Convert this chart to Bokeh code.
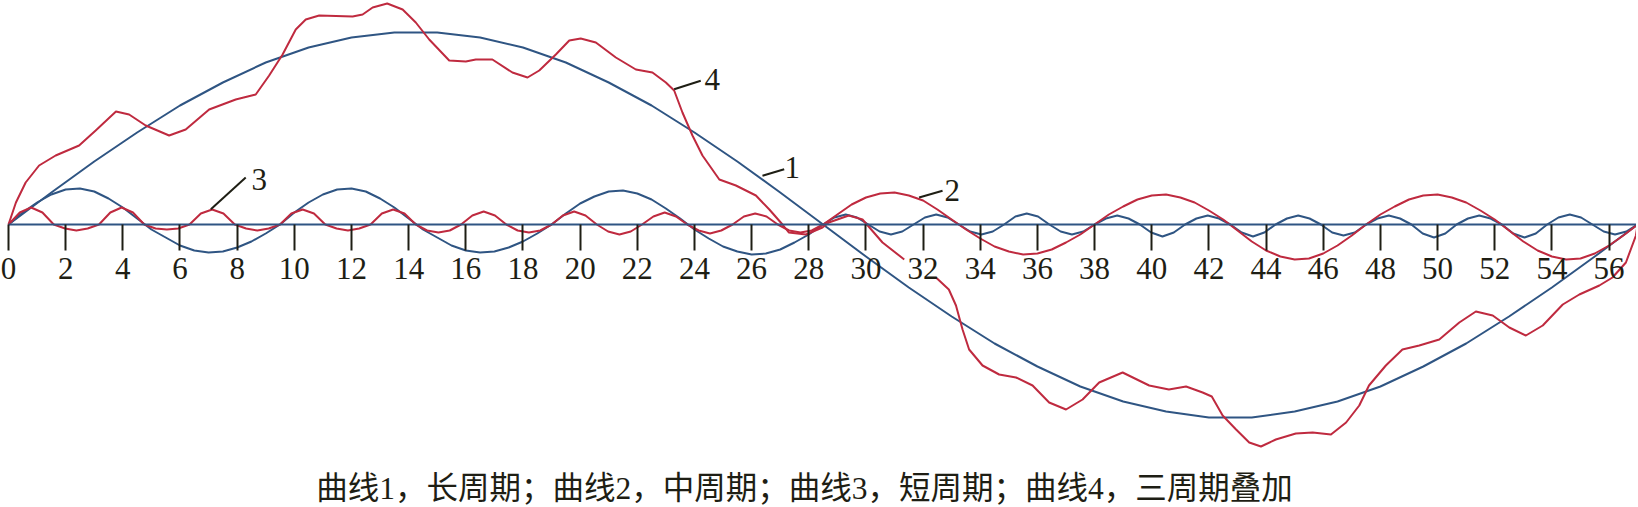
import numpy as np
from bokeh.plotting import figure
from bokeh.models import Range1d, LinearAxis, FixedTicker
from bokeh.core.properties import value
from bokeh.embed import file_html
from bokeh.resources import INLINE

# ---------------- data (y in px-like units above the axis) -------------
TICKS = [0, 2, 4, 6, 8, 10, 12, 14, 16, 18, 20, 22, 24, 26, 28,
         30, 32, 34, 36, 38, 40, 42, 44, 46, 48, 50, 52, 54, 56]

# curve 1: long period
LONG_X = [0, 1.5, 3, 4.5, 6, 7.5, 9, 10.5, 12, 13.5, 15, 16.5, 18, 19.5, 21, 22.5, 24, 25.5, 27,
          28.5, 30, 31.5, 33, 34.5, 36, 37.5, 39, 40.5, 42, 43.5, 45, 46.5, 48, 49.5, 51, 52.5,
          54, 55.5, 57]
LONG_Y = [0, 32, 63, 92, 119, 142, 162, 177, 187, 192, 192, 187, 177, 162, 142, 119, 92, 63, 32,
          0, -32, -63, -92, -119, -142, -162, -177, -187, -193, -193, -187, -177, -162, -142,
          -119, -92, -63, -32, 0]

# curve 2: medium period (blue in the first half, red in the second half), sampled every 0.5
MED_BLUE_Y = [0, 12, 22, 30, 35, 36, 33, 26, 17, 6, -5, -13, -21, -26, -28, -27, -23, -17, -9,
              0, 12, 22, 30, 35, 36, 33, 26, 17, 6, -5, -13, -21, -26, -28, -27, -23, -17, -9,
              0, 11, 21, 28, 33, 34, 31, 25, 16, 6, -5, -14, -22, -27, -30, -29, -25, -18, -10,
              0]
MED_RED_Y = [0, 10, 20, 27, 31, 32, 29, 24, 15, 5, -5, -14, -22, -27, -30, -29, -25, -18, -10,
             0, 10, 18, 25, 29, 30, 27, 22, 14, 5, -6, -17, -26, -32, -35, -34, -29, -21, -11,
             0, 10, 18, 25, 29, 30, 27, 22, 14, 5, -6, -17, -26, -32, -35, -34, -29, -21, -11,
             0]

# curve 3: short period (red in the first half, blue in the second half), 8 samples per period
SHORT_RED_Y = [0, 12, 17, 12, 0, -4, -6, -4,
               0, 12, 17, 12, 0, -4, -5, -4,
               0, 11, 15, 11, 0, -4, -6, -4,
               0, 11, 15, 11, 0, -4, -6, -4,
               0, 11, 15, 11, 0, -6, -8, -6,
               0, 9, 13, 9, 0, -6, -8, -6,
               0, 9, 13, 9, 0, -7, -10, -7,
               0, 8, 12, 8, 0, -6, -9, -6,
               0, 8, 11, 8, 0, -6, -8, -6,
               0]
SHORT_BLUE_Y = [0, 7, 10, 7, 0, -7, -10, -7,
                0, 7, 10, 7, 0, -7, -10, -7,
                0, 8, 11, 8, 0, -7, -10, -7,
                0, 6, 9, 6, 0, -8, -12, -8,
                0, 6, 9, 6, 0, -8, -12, -8,
                0, 6, 9, 6, 0, -8, -11, -8,
                0, 6, 9, 6, 0, -9, -13, -9,
                0, 6, 9, 6, 0, -9, -13, -9,
                0, 7, 10, 7, 0, -7, -10, -7,
                0]

# curve 4: superposition of the three periods (hand-drawn, broken around the "32" label)
NAN = float("nan")
SUM_X = [0, 0.26, 0.6, 1.07, 1.65, 2.47, 3.05, 3.76, 4.22, 4.8, 5.62, 6.2, 7.02, 7.95, 8.65,
         9.12, 9.59, 10.05, 10.4, 10.87, 12.04, 12.39, 12.74, 13.25, 13.79, 14.25, 14.72, 15.42,
         16.0, 16.35, 16.93, 17.63, 18.16, 18.57, 19.15, 19.62, 20.02, 20.55, 21.25, 21.95,
         22.53, 23.0, 23.29, 23.58, 23.93, 24.28, 24.87, 25.45, 26.15, 26.62, 27.08, 27.3, 27.9,
         28.48, 28.7, 29.4, 29.88, 30.58, 31.34, 31.9,
         32.45, 32.9, 33.15, 33.38, 33.61, 34.08, 34.66, 35.25, 35.83, 36.41, 37.0, 37.58, 38.16,
         38.98, 39.91, 40.6, 41.2, 41.78, 42.1, 42.48, 42.95, 43.41, 43.82, 44.34, 45.04, 45.63,
         46.27, 46.8, 47.26, 47.6, 48.19, 48.77, 49.36, 50.06, 50.76, 51.34, 51.93, 52.51,
         53.09, 53.68, 54.38, 54.96, 55.66, 56.12, 56.59, 56.94, 57.0]
SUM_Y = [0, 22, 42, 59, 69, 79, 94, 113, 110, 99, 89, 95, 115, 125, 130,
         149, 170, 195, 205, 209, 208, 210, 217, 221, 215, 202, 185, 164,
         163, 165, 165, 152, 147, 154, 170, 184, 186, 182, 167, 155,
         152, 142, 134, 112, 89, 69, 45, 39, 29, 15, 0, -8, -10,
         -3, 2, 9, 5, -18, -35, NAN,
         -53, -65, -81, -105, -125, -141, -150, -153, -161, -178, -185, -175, -158,
         -148, -161, -165, -162, -168, -172, -191, -205, -218, -222, -215, -209, -208,
         -210, -198, -181, -161, -141, -125, -121, -115, -98, -87, -91, -103,
         -111, -101, -80, -70, -61, -53, -38, -11, 0]

CURVE_LABELS = ["1", "2", "3", "4"]
CAPTION = "曲线1，长周期；曲线2，中周期；曲线3，短周期；曲线4，三周期叠加"

# ---------------- styling ----------------
BLUE = "#2f5583"
RED = "#bf2a3f"
INK = "#1e1e14"
SERIF = "Liberation Serif"

med_blue_x = np.linspace(0, 28.5, len(MED_BLUE_Y))
med_red_x = np.linspace(28.5, 57, len(MED_RED_Y))
short_red_x = np.linspace(0, 28.5, len(SHORT_RED_Y))
short_blue_x = np.linspace(28.5, 57, len(SHORT_BLUE_Y))

p = figure(width=1636, height=505, x_range=Range1d(-0.28, 56.96), y_range=Range1d(-281, 224),
           output_backend="svg", toolbar_location=None, min_border=0,
           x_axis_location=None, y_axis_location=None)
p.xgrid.visible = False
p.ygrid.visible = False
p.outline_line_color = None
p.background_fill_color = "white"
p.border_fill_color = "white"

lw = 2.0
p.line(LONG_X, LONG_Y, line_color=BLUE, line_width=lw, line_join="round")
p.line(med_blue_x, MED_BLUE_Y, line_color=BLUE, line_width=lw, line_join="round")
p.line(short_blue_x, SHORT_BLUE_Y, line_color=BLUE, line_width=lw, line_join="round")
p.line(med_red_x, MED_RED_Y, line_color=RED, line_width=lw, line_join="round")
p.line(short_red_x, SHORT_RED_Y, line_color=RED, line_width=lw, line_join="round")
p.line(SUM_X, SUM_Y, line_color=RED, line_width=lw, line_join="round")

# axis through y = 0
axis = LinearAxis(fixed_location=0, ticker=FixedTicker(ticks=TICKS), bounds=(0, 57))
axis.axis_line_color = BLUE
axis.axis_line_width = 2
axis.major_tick_line_color = INK
axis.major_tick_line_width = 2
axis.major_tick_out = 26
axis.major_tick_in = 0
axis.minor_tick_out = 0
axis.minor_tick_in = 0
axis.major_label_standoff = 7
axis.major_label_text_font = SERIF
axis.major_label_text_font_size = "31px"
axis.major_label_text_color = INK
p.add_layout(axis, "below")

# curve labels with leader lines
lab_x = [27.15, 32.75, 8.5, 24.35]
lab_y = [57, 34, 45, 145]
lead_x0 = [26.38, 31.86, 7.08, 23.29]
lead_y0 = [48.7, 27, 15.3, 135.3]
lead_x1 = [27.14, 32.68, 8.30, 24.22]
lead_y1 = [55.3, 33.7, 47, 143.7]
p.segment(lead_x0, lead_y0, lead_x1, lead_y1, line_color=INK, line_width=2)
p.text(lab_x, lab_y, text=CURVE_LABELS, text_font=value(SERIF), text_font_size="31px",
       text_color=INK, text_align="left", text_baseline="middle")

# caption
p.text([27.85], [-264], text=[CAPTION], text_font=value("'Liberation Serif', 'Noto Sans CJK SC'"),
       text_font_size="31.5px", text_color=INK, text_align="center", text_baseline="middle")

open("out.html", "w").write(file_html(p, INLINE))
